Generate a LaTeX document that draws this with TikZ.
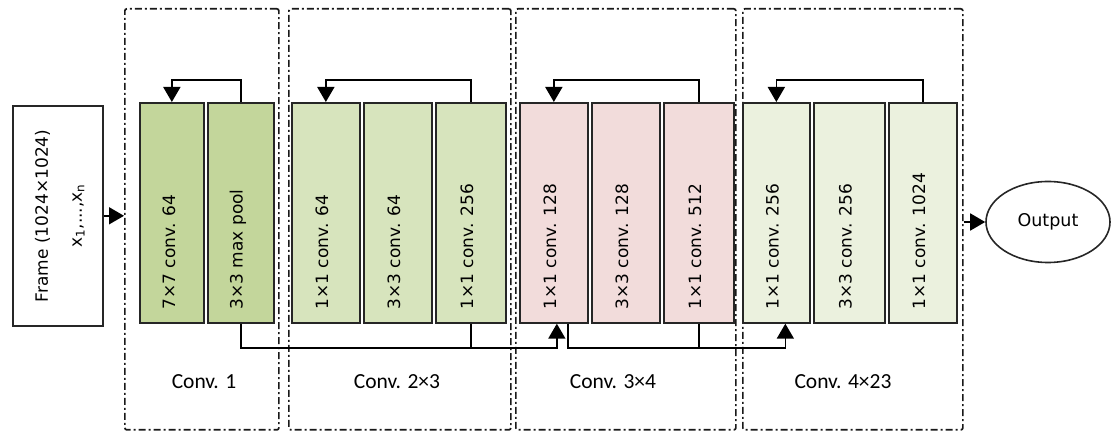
\documentclass[tikz,border=0pt]{standalone}
\usepackage{fontspec}
\setmainfont{DejaVu Sans}
\newfontfamily\lblfont{Carlito}
\usetikzlibrary{arrows.meta,shapes.geometric}
\definecolor{gA}{HTML}{C3D69B}
\definecolor{gB}{HTML}{D7E4BD}
\definecolor{pC}{HTML}{F2DCDB}
\definecolor{gD}{HTML}{EBF1DE}
\tikzset{
  blk/.style={draw=black!85, line width=1.7pt, minimum height=220pt, inner sep=0pt, anchor=north west},
  rtxt/.style={rotate=90, anchor=west, inner sep=0pt, font=\fontsize{17}{20}\selectfont},
  grp/.style={draw=black!90, line width=1.7pt, dash pattern=on 7pt off 3pt on 2pt off 3pt, rounded corners=2pt, minimum height=421pt, inner sep=0pt, anchor=north west},
  lbl/.style={font=\lblfont\fontsize{21.5}{24}\selectfont, inner sep=0pt},
  arr/.style={line width=1.7pt, -{Triangle[width=17pt,length=15pt]}},
  ln/.style={line width=1.7pt}
}
\begin{document}
\begin{tikzpicture}[x=1pt,y=-1pt]
\useasboundingbox (0,0) rectangle (1112,435);

% group boxes
\node[grp, minimum width=154pt] (g1) at (124,8) {};
\node[grp, minimum width=222pt] (g2) at (288,8) {};
\node[grp, minimum width=220pt] (g3) at (515,8) {};
\node[grp, minimum width=220pt] (g4) at (742,8) {};

% frame
\node[draw=black!85, line width=1.6pt, minimum width=90pt, minimum height=220pt, inner sep=0pt, anchor=north west] (frame) at (12,105) {};
\node[rotate=90, align=center, inner sep=0pt, font=\fontsize{17}{34}\selectfont] (ftxt) at ([xshift=2pt]frame.center) {Frame (1024×1024)\\x\textsubscript{1},...,x\textsubscript{n}};

% blocks
\node[blk, fill=gA, minimum width=64pt] (c1a) at (139,102) {};
\node[blk, fill=gA, minimum width=66pt] (c1b) at (207,102) {};
\node[blk, fill=gB, minimum width=68pt] (c2a) at (291,102) {};
\node[blk, fill=gB, minimum width=68pt] (c2b) at (363,102) {};
\node[blk, fill=gB, minimum width=70pt] (c2c) at (435,102) {};
\node[blk, fill=pC, minimum width=68pt] (c3a) at (519,102) {};
\node[blk, fill=pC, minimum width=68pt] (c3b) at (591,102) {};
\node[blk, fill=pC, minimum width=70pt] (c3c) at (663,102) {};
\node[blk, fill=gD, minimum width=67pt] (c4a) at (742,102) {};
\node[blk, fill=gD, minimum width=71pt] (c4b) at (813,102) {};
\node[blk, fill=gD, minimum width=68pt] (c4c) at (888,102) {};

% block texts
\node[rtxt] (t1a) at ([shift={(-3,-14)}]c1a.south) {7×7 conv. 64};
\node[rtxt] (t1b) at ([shift={(-3,-14)}]c1b.south) {3×3 max pool};
\node[rtxt] (t2a) at ([shift={(-4,-14)}]c2a.south) {1×1 conv. 64};
\node[rtxt] (t2b) at ([shift={(-4,-14)}]c2b.south) {3×3 conv. 64};
\node[rtxt] (t2c) at ([shift={(-4,-14)}]c2c.south) {1×1 conv. 256};
\node[rtxt] (t3a) at ([shift={(-4,-14)}]c3a.south) {1×1 conv. 128};
\node[rtxt] (t3b) at ([shift={(-4,-14)}]c3b.south) {3×3 conv. 128};
\node[rtxt] (t3c) at ([shift={(-4,-14)}]c3c.south) {1×1 conv. 512};
\node[rtxt] (t4a) at ([shift={(-4,-14)}]c4a.south) {1×1 conv. 256};
\node[rtxt] (t4b) at ([shift={(-4,-14)}]c4b.south) {3×3 conv. 256};
\node[rtxt] (t4c) at ([shift={(-4,-14)}]c4c.south) {1×1 conv. 1024};

% group labels
\node[lbl] (l1) at (204,382) {Conv. 1};
\node[lbl] (l2) at (397,382) {Conv. 2×3};
\node[lbl] (l3) at (613,382) {Conv. 3×4};
\node[lbl] (l4) at (843,382) {Conv. 4×23};

% output
\node[draw=black!85, line width=1.6pt, ellipse, minimum width=124pt, minimum height=81pt, inner sep=0pt, font=\fontsize{17.5}{20}\selectfont] (out) at (1048,222) {Output};

% input / output arrows
\draw[arr] (frame.east) -- (frame.east -| g1.west);
\draw[arr] (g4.east |- out.west) -- (out.west);

% top skip connections
\draw[arr] (c1b.north) -- ++(0,-22) -| (c1a.north);
\draw[arr] (c2c.north) -- ++(0,-22) -| (c2a.north);
\draw[arr] (c3c.north) -- ++(0,-22) -| (c3a.north);
\draw[arr] (c4c.north) -- ++(0,-22) -| (c4a.north);

% bottom connections
\draw[arr] (c1b.south) -- ++(0,24) -| ([xshift=3pt]c3a.south);
\draw[ln] (c2c.south) -- ++(0,24);
\draw[arr] ([xshift=14pt]c3a.south) -- ++(0,24) -| ([xshift=9pt]c4a.south);
\draw[ln] (c3c.south) -- ++(0,24);
\end{tikzpicture}
\end{document}
